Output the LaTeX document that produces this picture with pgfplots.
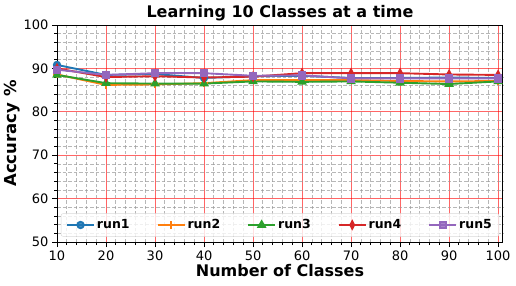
\documentclass[border=0pt]{standalone}
\usepackage{fontspec}
\setmainfont{DejaVu Sans}
\usepackage{pgfplots}
\pgfplotsset{compat=1.18}
\definecolor{c1}{HTML}{1F77B4}
\definecolor{c2}{HTML}{FF7F0E}
\definecolor{c3}{HTML}{2CA02C}
\definecolor{c4}{HTML}{D62728}
\definecolor{c5}{HTML}{9467BD}
\begin{document}
\begin{tikzpicture}
\path[use as bounding box] (-57pt,-43pt) rectangle (459pt,242pt);
\begin{axis}[
  at={(0pt,0pt)}, anchor=origin,
  scale only axis, width=446pt, height=217pt,
  xmin=10, xmax=101, ymin=50, ymax=100,
  xtick={10,20,...,100}, ytick={50,60,...,100},
  minor x tick num=4, minor y tick num=4,
  grid=both,
  major grid style={red, opacity=0.6, line width=0.9pt, solid},
  minor grid style={gray!80, opacity=0.7, dash pattern=on 3.5pt off 2pt, line width=0.7pt},
  tick align=outside, tick pos=left,
  major tick length=5pt, minor tick length=3pt,
  every tick/.style={black, line width=0.8pt},
  axis line style={black, line width=1pt},
  /pgf/number format/assume math mode=true,
  tick label style={font=\fontsize{13}{13}\selectfont},
  title={\fontsize{16}{16}\selectfont\bfseries Learning 10 Classes at a time},
  title style={yshift=-5pt},
  xlabel={\fontsize{16}{16}\selectfont\bfseries Number of Classes},
  ylabel={\fontsize{16.5}{16}\selectfont\bfseries Accuracy \%},
  xlabel style={yshift=3pt},
  ylabel style={yshift=-3pt},
  every axis plot/.append style={line width=1.9pt},
  legend image code/.code={\draw[mark repeat=2,mark phase=2] plot coordinates {(0pt,0pt) (13.5pt,0pt) (27pt,0pt)};},
  legend columns=5,
  legend style={at={(0.5,0.025)}, anchor=south, font=\fontsize{12.5}{12.5}\selectfont\bfseries,
    draw=gray!30, rounded corners=2pt, fill=white, fill opacity=0.8, text opacity=1,
    /tikz/every even column/.append style={column sep=25pt}, inner xsep=5pt, inner ysep=4pt},
]
\addplot[c1, mark=*, mark size=3.2pt] coordinates {(10,90.8) (20,88.5) (30,88.7) (40,87.8) (50,88.2) (60,88.3) (70,87.8) (80,87.8) (90,87.9) (100,87.8)};
\addlegendentry{run1}
\addplot[c2, mark=+, mark size=3.7pt, mark options={line width=2.2pt}] coordinates {(10,88.6) (20,86.2) (30,86.3) (40,86.6) (50,87.3) (60,87.3) (70,87.3) (80,87.1) (90,87.0) (100,87.1)};
\addlegendentry{run2}
\addplot[c3, mark=triangle*, mark size=3.7pt] coordinates {(10,88.5) (20,86.6) (30,86.5) (40,86.5) (50,87.0) (60,86.9) (70,87.0) (80,86.7) (90,86.4) (100,87.0)};
\addlegendentry{run3}
\addplot[c4, mark=diamond*, mark size=3.7pt, mark options={xscale=0.7}] coordinates {(10,90.0) (20,88.0) (30,88.2) (40,87.9) (50,88.1) (60,88.9) (70,88.9) (80,88.9) (90,88.6) (100,88.5)};
\addlegendentry{run4}
\addplot[c5, mark=square*, mark size=3.2pt] coordinates {(10,89.7) (20,88.5) (30,88.9) (40,88.9) (50,88.3) (60,88.4) (70,87.7) (80,87.7) (90,87.7) (100,87.7)};
\addlegendentry{run5}
\end{axis}
\end{tikzpicture}
\end{document}
